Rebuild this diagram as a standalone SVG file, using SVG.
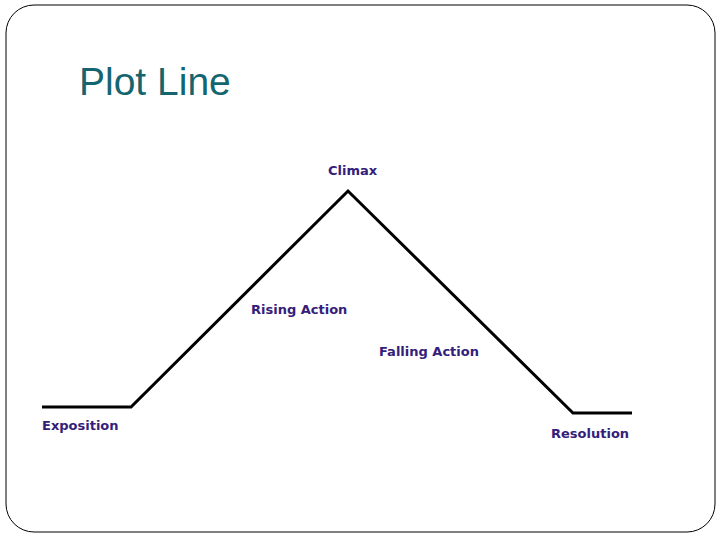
<svg xmlns="http://www.w3.org/2000/svg" width="720" height="540" viewBox="0 0 720 540">
<style>
.lbl{font-family:"DejaVu Sans",sans-serif;font-weight:600;font-size:13px;fill:#34207a}
.ln{fill:none;stroke:#000;stroke-width:3;stroke-linejoin:miter}
</style>
<rect x="0" y="0" width="720" height="540" fill="#fff"/>
<rect x="6" y="5" width="709" height="527" rx="28" ry="28" fill="none" stroke="#000" stroke-width="1"/>
<text x="79" y="95" font-family="Liberation Sans, Arial, sans-serif" font-size="39" fill="#156570">Plot Line</text>
<g id="connectors">
<polyline class="ln" points="42,407 131,407 348,191 573,413 632,413"/>
</g>
<g id="climax"><text class="lbl" x="328" y="175">Climax</text></g>
<g id="rising"><text class="lbl" x="251" y="314">Rising Action</text></g>
<g id="falling"><text class="lbl" x="379" y="356">Falling Action</text></g>
<g id="exposition"><text class="lbl" x="42" y="430">Exposition</text></g>
<g id="resolution"><text class="lbl" x="551" y="438">Resolution</text></g>
</svg>
